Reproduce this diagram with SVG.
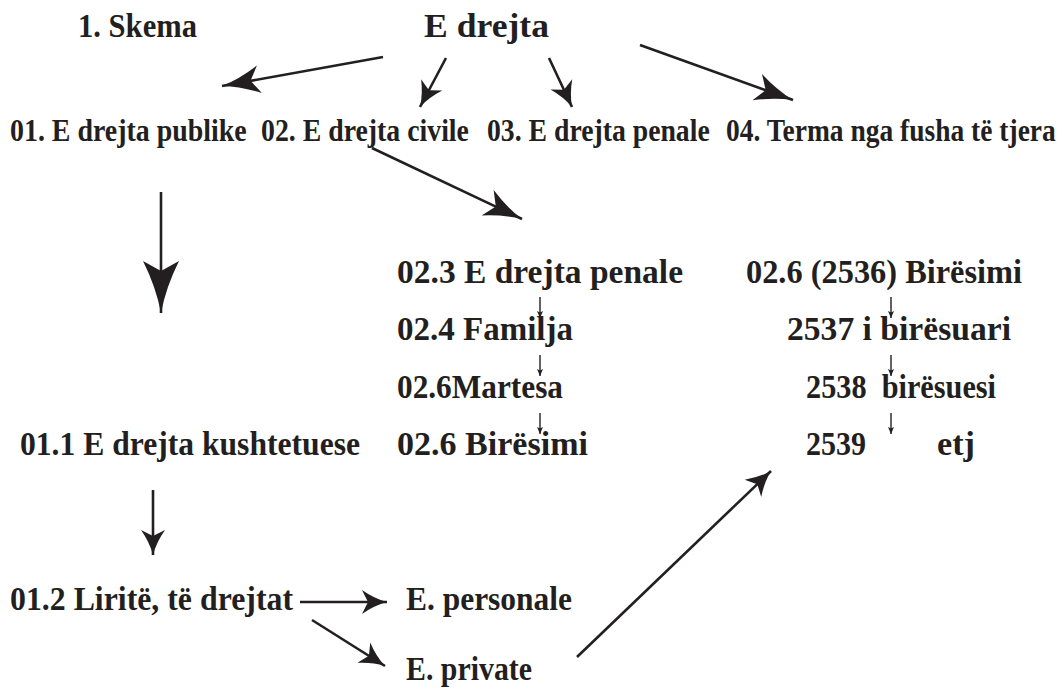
<svg xmlns="http://www.w3.org/2000/svg" width="1064" height="697" viewBox="0 0 1064 697">
<style>
text{font-family:"Liberation Serif","Times New Roman",serif;font-weight:bold;fill:#231f20}
.t1{font-size:33px}
.t2{font-size:32px}
.t3{font-size:34px}
.c{stroke:#231f20;fill:none;stroke-width:2.6}
.thin{stroke:#231f20;fill:none;stroke-width:1.4}
</style>
<defs>
<marker id="big" markerUnits="userSpaceOnUse" orient="auto" markerWidth="60" markerHeight="40" viewBox="-56 -20 60 40" refX="0" refY="0">
<path d="M0,0 Q-26,-5 -52,-18 L-42,0 L-52,18 Q-26,5 0,0 Z" fill="#231f20"/>
</marker>
<marker id="med" markerUnits="userSpaceOnUse" orient="auto" markerWidth="46" markerHeight="32" viewBox="-42 -16 46 32" refX="0" refY="0">
<path d="M0,0 Q-19,-4 -38,-14 L-29,0 L-38,14 Q-19,4 0,0 Z" fill="#231f20"/>
</marker>
<marker id="sm" markerUnits="userSpaceOnUse" orient="auto" markerWidth="32" markerHeight="28" viewBox="-28 -14 32 28" refX="0" refY="0">
<path d="M0,0 Q-13,-3.5 -25,-12 L-19,0 L-25,12 Q-13,3.5 0,0 Z" fill="#231f20"/>
</marker>
<marker id="tiny" markerUnits="userSpaceOnUse" orient="auto" markerWidth="10" markerHeight="8" viewBox="-8 -4 10 8" refX="0" refY="0">
<path d="M0,0 L-7,-3 L-5.5,0 L-7,3 Z" fill="#231f20"/>
</marker>
</defs>

<g id="connectors">
<line class="c" x1="383" y1="57" x2="222" y2="86" marker-end="url(#med)"/>
<line class="c" x1="446" y1="58" x2="420" y2="107" marker-end="url(#sm)"/>
<line class="c" x1="549" y1="58" x2="572" y2="107" marker-end="url(#sm)"/>
<line class="c" x1="640" y1="45" x2="793" y2="100" marker-end="url(#med)"/>
<line class="c" x1="372" y1="148" x2="522" y2="219" marker-end="url(#med)"/>
<line class="c" x1="161" y1="192" x2="161" y2="313" marker-end="url(#big)"/>
<line class="c" x1="153" y1="490" x2="153" y2="555" marker-end="url(#sm)"/>
<line class="c" x1="300" y1="602" x2="387" y2="602" marker-end="url(#sm)"/>
<line class="c" x1="312" y1="620" x2="385" y2="666" marker-end="url(#sm)"/>
<line class="c" x1="577" y1="657" x2="771" y2="471" marker-end="url(#sm)"/>
<line class="thin" x1="540" y1="297" x2="540" y2="318" marker-end="url(#tiny)"/>
<line class="thin" x1="540" y1="355" x2="540" y2="376" marker-end="url(#tiny)"/>
<line class="thin" x1="540" y1="413" x2="540" y2="434" marker-end="url(#tiny)"/>
<line class="thin" x1="891" y1="297" x2="891" y2="318" marker-end="url(#tiny)"/>
<line class="thin" x1="891" y1="355" x2="891" y2="376" marker-end="url(#tiny)"/>
<line class="thin" x1="891" y1="413" x2="891" y2="434" marker-end="url(#tiny)"/>
</g>

<g id="title"><text class="t1" x="78" y="37" textLength="119" lengthAdjust="spacingAndGlyphs">1. Skema</text></g>
<g id="root"><text class="t1" x="424" y="37" textLength="125" lengthAdjust="spacingAndGlyphs">E drejta</text></g>

<g id="n01"><text class="t2" transform="translate(10,141) scale(0.87,1)" x="0" y="0" textLength="272" lengthAdjust="spacingAndGlyphs">01. E drejta publike</text></g>
<g id="n02"><text class="t2" transform="translate(261,141) scale(0.87,1)" x="0" y="0" textLength="239" lengthAdjust="spacingAndGlyphs">02. E drejta civile</text></g>
<g id="n03"><text class="t2" transform="translate(487,141) scale(0.87,1)" x="0" y="0" textLength="256" lengthAdjust="spacingAndGlyphs">03. E drejta penale</text></g>
<g id="n04"><text class="t2" transform="translate(726,141) scale(0.85,1)" x="0" y="0" textLength="388" lengthAdjust="spacingAndGlyphs">04. Terma nga fusha të tjera</text></g>

<g id="n011"><text class="t3" x="20" y="455" textLength="340" lengthAdjust="spacingAndGlyphs">01.1 E drejta kushtetuese</text></g>
<g id="n012"><text class="t3" x="10" y="610" textLength="283" lengthAdjust="spacingAndGlyphs">01.2 Liritë, të drejtat</text></g>
<g id="npers"><text class="t3" x="406" y="610" textLength="166" lengthAdjust="spacingAndGlyphs">E. personale</text></g>
<g id="npriv"><text class="t3" x="406" y="680" textLength="126" lengthAdjust="spacingAndGlyphs">E. private</text></g>

<g id="n023"><text class="t3" x="397" y="283" textLength="286" lengthAdjust="spacingAndGlyphs">02.3 E drejta penale</text></g>
<g id="n024"><text class="t3" x="397" y="340" textLength="176" lengthAdjust="spacingAndGlyphs">02.4 Familja</text></g>
<g id="n026m"><text class="t3" x="397" y="398" textLength="166" lengthAdjust="spacingAndGlyphs">02.6Martesa</text></g>
<g id="n026b"><text class="t3" x="397" y="455" textLength="191" lengthAdjust="spacingAndGlyphs">02.6 Birësimi</text></g>

<g id="n2536"><text class="t3" x="746" y="283" textLength="276" lengthAdjust="spacingAndGlyphs">02.6 (2536) Birësimi</text></g>
<g id="n2537"><text class="t3" x="787" y="340" textLength="224" lengthAdjust="spacingAndGlyphs">2537 i birësuari</text></g>
<g id="n2538"><text class="t3" x="806" y="398" textLength="190" lengthAdjust="spacingAndGlyphs" xml:space="preserve">2538  birësuesi</text></g>
<g id="n2539"><text class="t3" x="806" y="455" textLength="60" lengthAdjust="spacingAndGlyphs">2539</text><text class="t3" x="937" y="455" textLength="38" lengthAdjust="spacingAndGlyphs">etj</text></g>
</svg>
